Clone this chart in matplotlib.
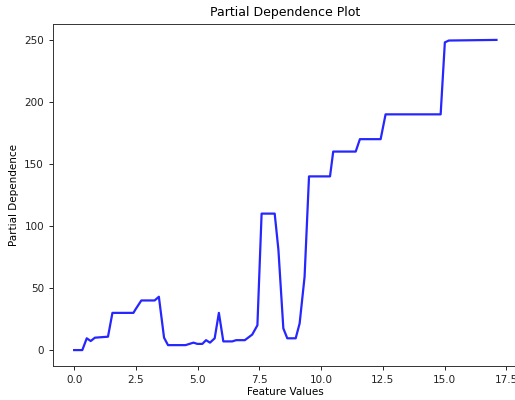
import numpy as np
import matplotlib
matplotlib.use('Agg')
import matplotlib.pyplot as plt

# partial dependence curve, breakpoints of the piecewise line
feature_values = [
    0.0, 0.33, 0.51, 0.67, 0.84, 1.37, 1.55, 2.40, 2.49, 2.72, 3.26, 3.43,
    3.64, 3.80, 4.51, 4.83, 4.99, 5.19, 5.34, 5.50, 5.69, 5.86, 6.04, 6.40,
    6.56, 6.91, 7.21, 7.42, 7.59, 8.12, 8.27, 8.47, 8.63, 8.97, 9.13, 9.33,
    9.51, 10.36, 10.49, 11.40, 11.57, 12.41, 12.61, 14.84, 15.01, 15.17, 17.1,
]
partial_dependence = [
    0, 0, 9.5, 7.3, 10, 10.8, 30, 30, 33, 40, 40, 43,
    10, 4, 4, 6, 5, 5, 8, 6, 9.5, 30, 7, 7,
    8, 8, 12.5, 20, 110, 110, 81, 17.5, 9.5, 9.5, 21.5, 59,
    140, 140, 160, 160, 170, 170, 190, 190, 248, 249.5, 250,
]

fig = plt.figure(figsize=(5.15, 4.0), dpi=100)
ax = fig.add_axes([0.103, 0.086, 0.902, 0.853])

ax.plot(np.array(feature_values), np.array(partial_dependence),
        color='blue', linewidth=1.6, alpha=0.85)

ax.set_title('Partial Dependence Plot', fontsize=9)
ax.set_xlabel('Feature Values', fontsize=7.5, labelpad=2)
ax.set_ylabel('Partial Dependence', fontsize=7.5, labelpad=4)
ax.set_xticks([0.0, 2.5, 5.0, 7.5, 10.0, 12.5, 15.0, 17.5])
ax.set_yticks([0, 50, 100, 150, 200, 250])
ax.tick_params(labelsize=7.5, length=3, width=0.7, colors='#222222')
for spine in ax.spines.values():
    spine.set_linewidth(0.7)
    spine.set_color('#333333')

fig.savefig('out.png', dpi=100)
